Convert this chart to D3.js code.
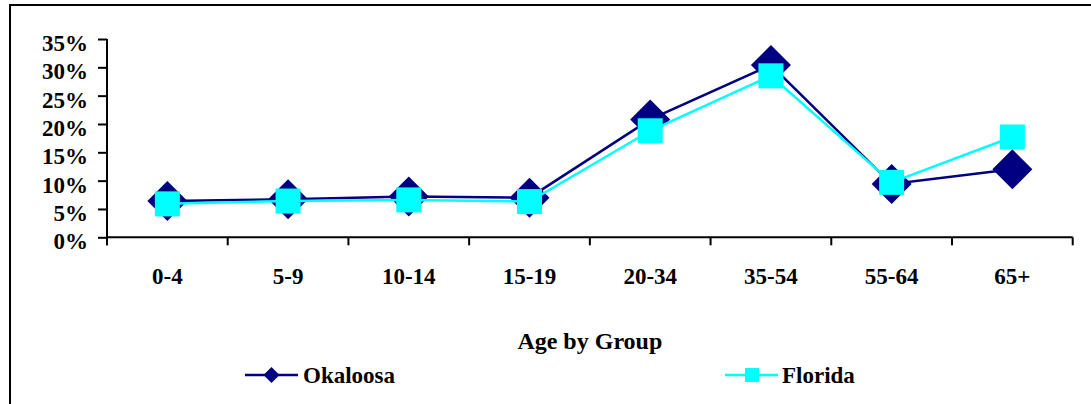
<!DOCTYPE html>
<html><head><meta charset="utf-8">
<script src="https://cdn.jsdelivr.net/npm/d3@7"></script>
<style>
html,body{margin:0;padding:0;background:#fff;}
</style></head>
<body>
<svg id="c" width="1091" height="404"></svg>
<script>
const categories = ["0-4","5-9","10-14","15-19","20-34","35-54","55-64","65+"];
const okaloosa = [0.064,0.067,0.072,0.070,0.208,0.304,0.094,0.120];
const florida  = [0.059,0.064,0.066,0.063,0.188,0.285,0.097,0.177];
const yTicks = [0,0.05,0.10,0.15,0.20,0.25,0.30,0.35];
const seriesNames = ["Okaloosa","Florida"];
const axisTitle = "Age by Group";

const svg = d3.select("#c");
const pLeft = 107, pRight = 1072.7, pTop = 39, pBottom = 237.3;
const FONT = "Liberation Serif";

// outer border (top + left)
svg.append("path").attr("d","M10,404 L10,5 L1091,5").attr("fill","none").attr("stroke","#000").attr("stroke-width",2);

const x = d3.scaleBand().domain(categories).range([pLeft,pRight]).padding(0);
const y = d3.scaleLinear().domain([0,0.35]).range([pBottom,pTop]);

function styleText(sel, size){
  sel.attr("font-family",FONT).attr("font-weight","bold").attr("font-size",size).attr("fill","#000");
}

// y axis
const ya = svg.append("g").attr("transform",`translate(${pLeft},0)`)
  .call(d3.axisLeft(y).tickValues(yTicks).tickFormat(d3.format(".0%")).tickSize(9).tickPadding(10).tickSizeOuter(0));
ya.attr("font-family",FONT).attr("font-size",23);
ya.select(".domain").attr("stroke-width",2).attr("d",`M0,${pTop}V${pBottom+8}`);
ya.selectAll(".tick line").attr("stroke-width",2);
ya.selectAll(".tick text").call(styleText,23).attr("dy","0.5em");

// x axis
const xa = svg.append("g").attr("transform",`translate(0,${pBottom})`)
  .call(d3.axisBottom(x).tickSize(0).tickPadding(30));
xa.attr("font-family",FONT).attr("font-size",23);
xa.select(".domain").attr("stroke-width",2).attr("d",`M${pLeft},0H${pRight}`);
xa.selectAll(".tick text").call(styleText,23);
// boundary ticks
const bounds = categories.map(c=>x(c)).concat([pRight]);
svg.append("g").selectAll("line").data(bounds).join("line")
  .attr("x1",d=>d).attr("x2",d=>d).attr("y1",pBottom).attr("y2",pBottom+8)
  .attr("stroke","#000").attr("stroke-width",2);

const cx = c => x(c) + x.bandwidth()/2;
const line = d3.line().x((d,i)=>cx(categories[i])).y(d=>y(d));

// Okaloosa
svg.append("path").datum(okaloosa).attr("d",line).attr("fill","none").attr("stroke","#000080").attr("stroke-width",2.5);
svg.append("g").selectAll("path").data(okaloosa).join("path")
  .attr("transform",(d,i)=>`translate(${cx(categories[i])},${y(d)})`)
  .attr("d","M0,-20L20,0L0,20L-20,0Z").attr("fill","#000080");

// Florida
svg.append("path").datum(florida).attr("d",line).attr("fill","none").attr("stroke","#00FFFF").attr("stroke-width",2.5);
svg.append("g").selectAll("rect").data(florida).join("rect")
  .attr("x",(d,i)=>cx(categories[i])-12.5).attr("y",d=>y(d)-12.5)
  .attr("width",25).attr("height",25).attr("fill","#00FFFF");

// axis title
svg.append("text").attr("x",(pLeft+pRight)/2).attr("y",349).attr("text-anchor","middle").call(styleText,24).text(axisTitle);

// legend
const lg = svg.append("g");
lg.append("line").attr("x1",245).attr("x2",298).attr("y1",375).attr("y2",375).attr("stroke","#000080").attr("stroke-width",2.5);
lg.append("path").attr("transform","translate(271.5,375)").attr("d","M0,-8L8,0L0,8L-8,0Z").attr("fill","#000080");
lg.append("text").attr("x",303).attr("y",383).call(styleText,23).text(seriesNames[0]);
lg.append("line").attr("x1",725).attr("x2",778).attr("y1",375).attr("y2",375).attr("stroke","#00FFFF").attr("stroke-width",2.5);
lg.append("rect").attr("x",745).attr("y",368).attr("width",14).attr("height",14).attr("fill","#00FFFF");
lg.append("text").attr("x",782).attr("y",383).call(styleText,23).text(seriesNames[1]);
</script>
</body></html>
